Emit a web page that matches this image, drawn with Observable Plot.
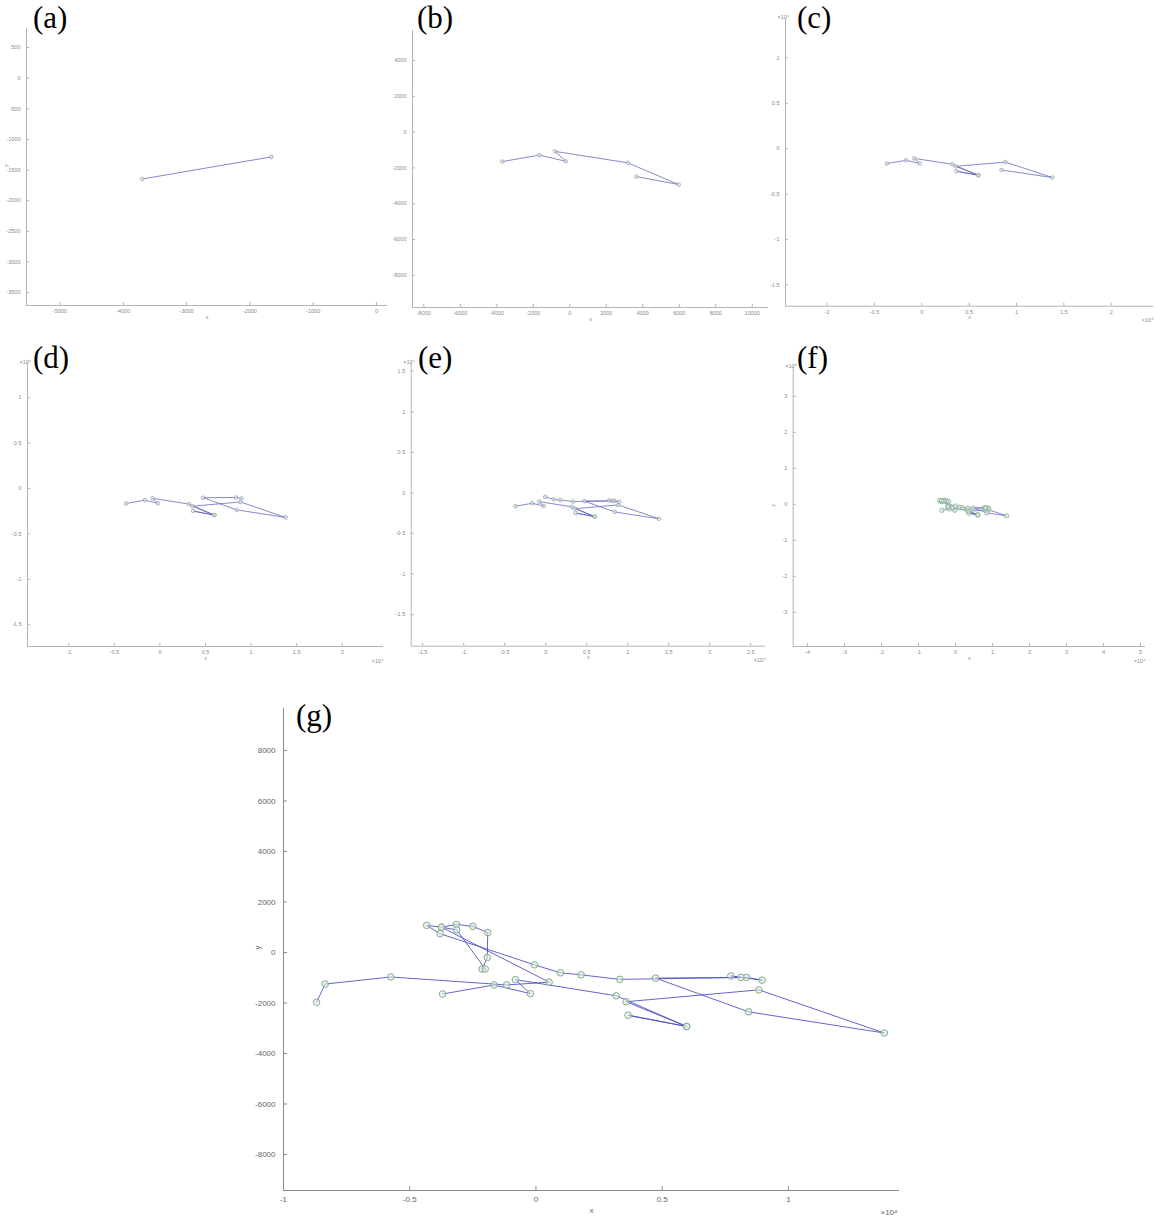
<!DOCTYPE html>
<html><head><meta charset="utf-8">
<script src="https://cdn.jsdelivr.net/npm/d3@7"></script>
<script src="https://cdn.jsdelivr.net/npm/@observablehq/plot@0.6"></script>
<style>
body{margin:0;background:#fff;}
#root{position:relative;width:1156px;height:1222px;background:#fff;overflow:hidden;}
.panel{position:absolute;}
.lbl{position:absolute;font-family:"Liberation Serif","Times New Roman",serif;font-size:31px;color:#000;line-height:1;white-space:nowrap;}
</style></head><body><div id="root"></div>
<script>
// Trajectory points in the order they are visited (full path of panel g)
const pathX = [-3700,-1660,-220,-810,3180,5970,3650,5970,3570,8830,13800,8420,4740,8340,8960,7720,8120,3320,1790,970,-60,-3800,-4330,-3740,-3150,-2500,-1910,-1930,-2130,-2010,-3140,-3740,520,-1160,-5750,-8350,-8690];
const pathY = [-1645,-1285,-1630,-1075,-1715,-2930,-2485,-2930,-1950,-1480,-3190,-2350,-1015,-990,-1095,-930,-985,-1065,-885,-805,-488,745,1075,1000,1110,1035,790,-200,-655,-650,895,1000,-1175,-1285,-970,-1250,-1970];
// Number of path points shown in each panel
const panelNames = ["(a)","(b)","(c)","(d)","(e)","(f)","(g)"];
const panelCounts = [2,7,12,15,21,32,37];
// Tick values per panel
const xTicksA = [-5000,-4000,-3000,-2000,-1000,0];
const yTicksA = [500,0,-500,-1000,-1500,-2000,-2500,-3000,-3500];
const xTicksB = [-8000,-6000,-4000,-2000,0,2000,4000,6000,8000,10000];
const yTicksB = [4000,2000,0,-2000,-4000,-6000,-8000];
const xTicksC = [-1,-0.5,0,0.5,1,1.5,2];
const yTicksC = [1,0.5,0,-0.5,-1,-1.5];
const xTicksE = [-1.5,-1,-0.5,0,0.5,1,1.5,2,2.5];
const yTicksE = [1.5,1,0.5,0,-0.5,-1,-1.5];
const xTicksF = [-4,-3,-2,-1,0,1,2,3,4,5];
const yTicksF = [3,2,1,0,-1,-2,-3];
const xTicksG = [-1,-0.5,0,0.5,1];
const yTicksG = [8000,6000,4000,2000,0,-2000,-4000,-6000,-8000];

// Layout (pixel boxes) and axis domains
const panels = [
  {svg:[0,0,390,335], plot:[26,28,387,305], xd:[-5530,175], yd:[-3710,810], xs:1, ys:1, xt:xTicksA, yt:yTicksA, exp:false, ylab:true, lab:[33,2]},
  {svg:[385,0,390,335], plot:[412,30,768,307], xd:[-8620,10890], yd:[-9800,5680], xs:1, ys:1, xt:xTicksB, yt:yTicksB, exp:false, ylab:false, lab:[417,2]},
  {svg:[770,0,386,335], plot:[785,18,1153,305.7], xd:[-1.44,2.447], yd:[-1.736,1.434], xs:1e4, ys:1e4, xt:xTicksC, yt:yTicksC, exp:true, ylab:false, lab:[797,2]},
  {svg:[0,340,390,335], plot:[27,362.7,383,646], xd:[-1.453,2.453], yd:[-1.74,1.38], xs:1e4, ys:1e4, xt:xTicksC, yt:yTicksC, exp:true, ylab:false, lab:[33,342]},
  {svg:[385,340,390,335], plot:[410.7,363,765,645.7], xd:[-1.64,2.68], yd:[-1.89,1.595], xs:1e4, ys:1e4, xt:xTicksE, yt:yTicksE, exp:true, ylab:false, lab:[418,342]},
  {svg:[770,340,386,335], plot:[792.7,366.7,1145,646], xd:[-4.39,5.135], yd:[-3.95,3.81], xs:1e4, ys:1e4, xt:xTicksF, yt:yTicksF, exp:true, ylab:true, lab:[797,342]},
  {svg:[230,690,700,532], plot:[283,708,899,1190], xd:[-1.0,1.44], yd:[-9426,9663], xs:1e4, ys:1, xt:xTicksG, yt:yTicksG, exp:true, ylab:true, big:true, lab:[296,700]}
];

const root = document.getElementById("root");
const fmt = d => String(d);

panels.forEach((p, i) => {
  const [sl, st, sw, sh] = p.svg;
  const [pl, pt, pr, pb] = p.plot;
  const big = !!p.big;
  const n = panelCounts[i];
  const pts = d3.range(n).map(k => ({x: pathX[k] / p.xs, y: pathY[k] / p.ys}));
  const pw = pr - pl, ph = pb - pt;
  const axisColor = big ? "#8a8a8a" : "#b5b5b5";
  const textColor = big ? "#666" : "#8a8a8a";
  const fs = big ? 8 : 5.5;
  const tl = big ? 4 : 3;
  const green = big || i === 5;
  const marks = [
    Plot.ruleX([p.xd[0]], {stroke: axisColor, strokeWidth: 1}),
    Plot.ruleY([p.yd[0]], {stroke: axisColor, strokeWidth: 1}),
    Plot.tickX(p.xt, {x: d => d, insetTop: ph - tl, stroke: axisColor}),
    Plot.tickY(p.yt, {y: d => d, insetRight: pw - tl, stroke: axisColor}),
    Plot.axisX(p.xt, {tickSize: 0, tickPadding: big ? 6 : 4, tickFormat: fmt, fill: textColor, label: null}),
    Plot.axisY(p.yt, {tickSize: 0, tickPadding: big ? 8 : 6, tickFormat: fmt, fill: textColor, label: null}),
    Plot.line(pts, {x: "x", y: "y", stroke: big ? "#4a4ac0" : "#5a5ab8", strokeWidth: big ? 0.95 : 0.8, strokeOpacity: 0.9}),
    Plot.dot(pts, {x: "x", y: "y", r: big ? 3.3 : (i === 5 ? 2.2 : 1.8), stroke: green ? "#86ad92" : "#8fa6a8", strokeWidth: big ? 1 : 0.8, fill: green ? "#dcebdd" : "#e6eded", fillOpacity: 0.55}),
    Plot.text(["x"], {frameAnchor: "bottom", dy: big ? 22 : 13, fill: textColor, fontSize: fs})
  ];
  if (p.ylab) marks.push(Plot.text(["y"], {frameAnchor: "left", dx: big ? -26 : -20, rotate: -90, fill: textColor, fontSize: fs}));
  if (p.exp) {
    marks.push(Plot.text(["×10⁴"], {frameAnchor: "bottom-right", dx: big ? -2 : 0, dy: big ? 24 : 16, textAnchor: "end", fill: textColor, fontSize: fs}));
    if (p.ys !== 1) marks.push(Plot.text(["×10⁴"], {frameAnchor: "top-left", dx: -8, dy: -3, textAnchor: "start", fill: textColor, fontSize: fs}));
  }
  const chart = Plot.plot({
    width: sw, height: sh,
    marginLeft: pl - sl, marginTop: pt - st, marginRight: sl + sw - pr, marginBottom: st + sh - pb,
    x: {domain: p.xd},
    y: {domain: p.yd},
    style: {fontFamily: "'Liberation Sans', Arial, sans-serif", fontSize: fs + "px", background: "transparent", overflow: "visible"},
    marks
  });
  chart.classList.add("panel");
  chart.style.left = sl + "px";
  chart.style.top = st + "px";
  root.appendChild(chart);
  const lab = document.createElement("div");
  lab.className = "lbl";
  lab.textContent = panelNames[i];
  lab.style.left = p.lab[0] + "px";
  lab.style.top = p.lab[1] + "px";
  root.appendChild(lab);
});
</script>
</body></html>
